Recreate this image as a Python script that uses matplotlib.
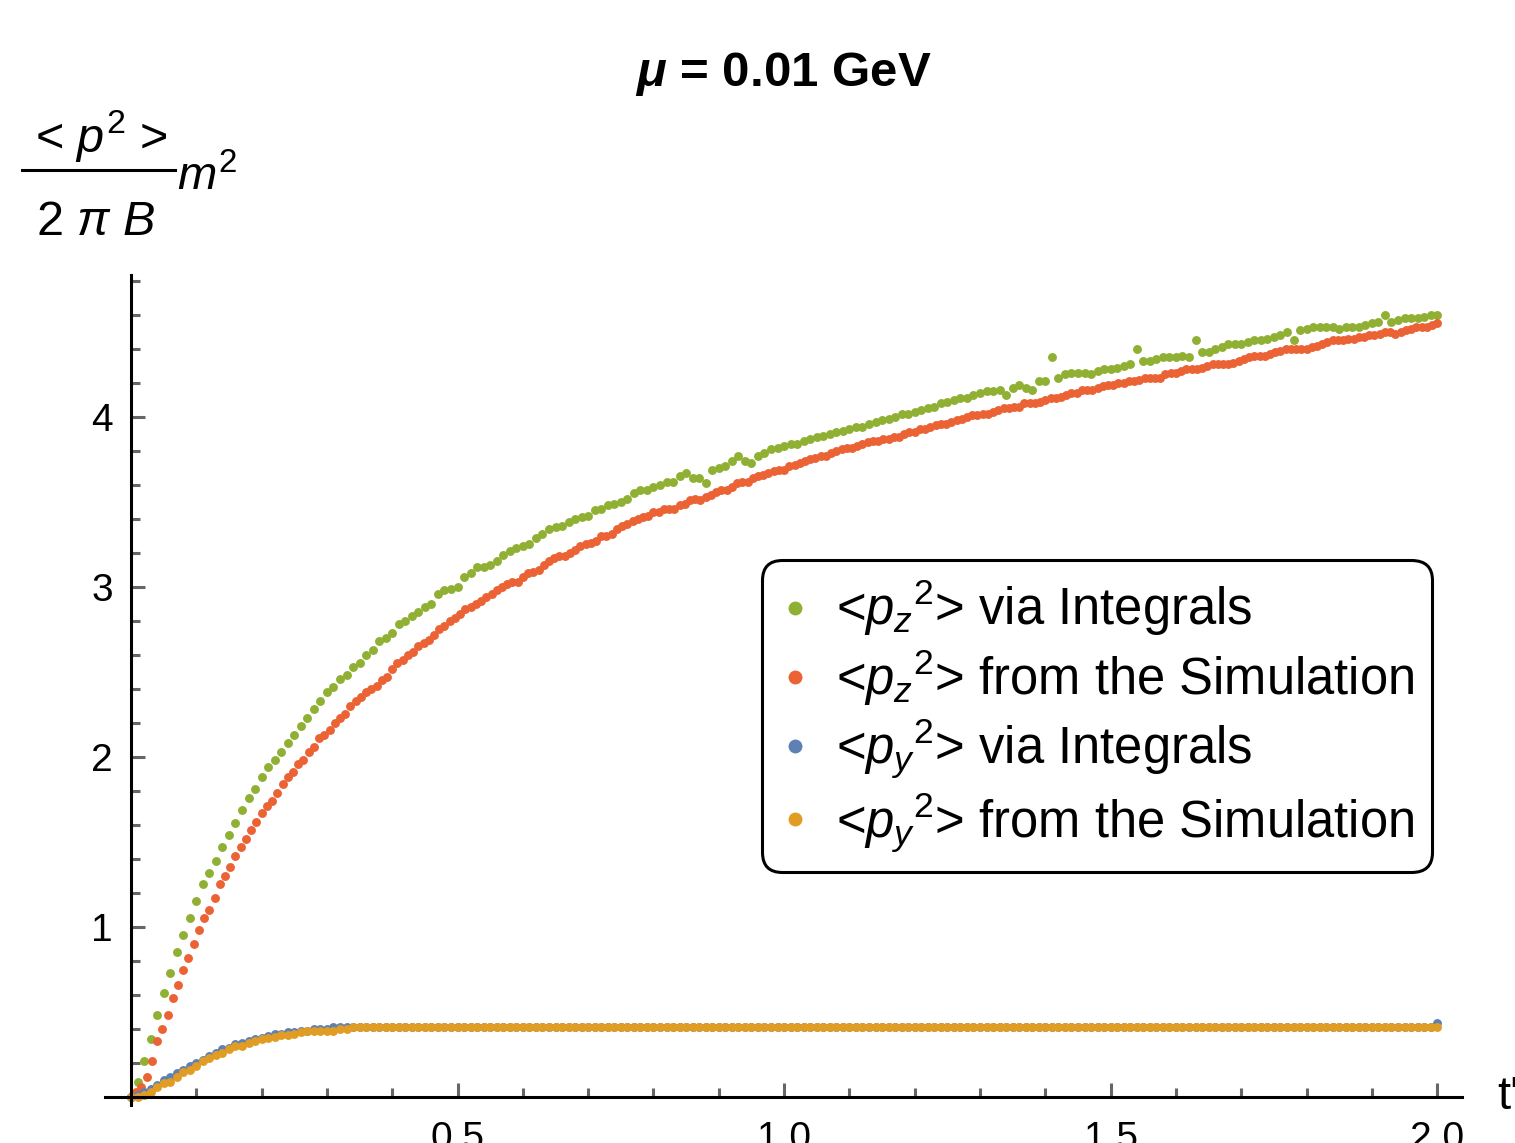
import matplotlib
matplotlib.use('Agg')
import matplotlib.pyplot as plt
import numpy as np
from matplotlib.lines import Line2D
from matplotlib.ticker import FixedLocator

plt.rcParams['font.family'] = ['Liberation Sans', 'DejaVu Sans']
plt.rcParams['mathtext.fontset'] = 'custom'
plt.rcParams['mathtext.rm'] = 'Liberation Sans'
plt.rcParams['mathtext.it'] = 'Liberation Sans:italic'
plt.rcParams['mathtext.bf'] = 'Liberation Sans:bold'
plt.rcParams['mathtext.bfit'] = 'Liberation Sans:bold:italic'

# <p_z^2> via integrals, t' = 0.00 ... 2.00 in steps of 0.01
pz2_integrals = [
    0.00, 0.09, 0.21, 0.34, 0.48, 0.61, 0.73, 0.85, 0.95, 1.05,
    1.15, 1.25, 1.32, 1.39, 1.47, 1.54, 1.61, 1.69, 1.76, 1.81,
    1.88, 1.94, 1.98, 2.03, 2.08, 2.13, 2.18, 2.23, 2.28, 2.33,
    2.38, 2.41, 2.46, 2.48, 2.53, 2.55, 2.60, 2.63, 2.68, 2.70,
    2.73, 2.78, 2.80, 2.83, 2.85, 2.88, 2.90, 2.96, 2.98, 2.99,
    3.00, 3.06, 3.08, 3.12, 3.12, 3.13, 3.15, 3.19, 3.21, 3.23,
    3.24, 3.25, 3.29, 3.31, 3.34, 3.35, 3.36, 3.38, 3.40, 3.41,
    3.42, 3.45, 3.46, 3.48, 3.49, 3.50, 3.52, 3.55, 3.57, 3.57,
    3.59, 3.60, 3.62, 3.62, 3.65, 3.67, 3.64, 3.64, 3.61, 3.69,
    3.70, 3.71, 3.74, 3.77, 3.74, 3.73, 3.77, 3.79, 3.81, 3.82,
    3.83, 3.84, 3.84, 3.86, 3.87, 3.88, 3.89, 3.90, 3.91, 3.92,
    3.93, 3.94, 3.94, 3.96, 3.97, 3.98, 3.99, 4.00, 4.02, 4.02,
    4.03, 4.04, 4.05, 4.06, 4.08, 4.09, 4.10, 4.11, 4.11, 4.13,
    4.14, 4.15, 4.15, 4.16, 4.13, 4.17, 4.19, 4.17, 4.16, 4.21,
    4.21, 4.35, 4.23, 4.25, 4.26, 4.26, 4.26, 4.25, 4.27, 4.28,
    4.28, 4.29, 4.30, 4.31, 4.40, 4.33, 4.33, 4.34, 4.35, 4.35,
    4.35, 4.36, 4.35, 4.45, 4.38, 4.38, 4.40, 4.41, 4.43, 4.43,
    4.43, 4.44, 4.45, 4.45, 4.46, 4.47, 4.48, 4.50, 4.45, 4.51,
    4.52, 4.53, 4.53, 4.53, 4.53, 4.52, 4.53, 4.53, 4.53, 4.54,
    4.55, 4.56, 4.60, 4.56, 4.57, 4.58, 4.58, 4.58, 4.59, 4.60,
    4.60,
]

# <p_z^2> from the simulation, t' = 0.000 ... 2.000 in steps of 0.008
pz2_simulation = [
    0.00, 0.03, 0.06, 0.12, 0.21, 0.33, 0.40, 0.48, 0.58, 0.66,
    0.75, 0.82, 0.90, 0.98, 1.05, 1.10, 1.17, 1.25, 1.30, 1.35,
    1.42, 1.47, 1.52, 1.57, 1.62, 1.67, 1.71, 1.74, 1.79, 1.84,
    1.88, 1.91, 1.96, 1.98, 2.03, 2.06, 2.11, 2.13, 2.16, 2.20,
    2.23, 2.25, 2.30, 2.33, 2.35, 2.38, 2.40, 2.42, 2.45, 2.47,
    2.52, 2.55, 2.57, 2.60, 2.62, 2.65, 2.67, 2.69, 2.72, 2.75,
    2.77, 2.80, 2.82, 2.84, 2.87, 2.88, 2.90, 2.92, 2.94, 2.96,
    2.98, 3.00, 3.02, 3.03, 3.03, 3.06, 3.08, 3.09, 3.10, 3.13,
    3.15, 3.17, 3.18, 3.18, 3.20, 3.22, 3.24, 3.25, 3.26, 3.27,
    3.30, 3.30, 3.31, 3.34, 3.36, 3.37, 3.39, 3.40, 3.41, 3.42,
    3.44, 3.44, 3.46, 3.46, 3.46, 3.48, 3.49, 3.51, 3.52, 3.51,
    3.53, 3.54, 3.56, 3.57, 3.57, 3.59, 3.61, 3.62, 3.62, 3.64,
    3.65, 3.66, 3.67, 3.68, 3.69, 3.69, 3.71, 3.72, 3.73, 3.74,
    3.75, 3.76, 3.77, 3.77, 3.79, 3.80, 3.81, 3.82, 3.82, 3.83,
    3.84, 3.85, 3.86, 3.86, 3.87, 3.87, 3.88, 3.88, 3.90, 3.91,
    3.91, 3.93, 3.93, 3.94, 3.95, 3.96, 3.96, 3.97, 3.98, 3.99,
    4.00, 4.01, 4.01, 4.02, 4.02, 4.03, 4.04, 4.05, 4.05, 4.06,
    4.06, 4.08, 4.08, 4.08, 4.09, 4.10, 4.11, 4.11, 4.12, 4.13,
    4.14, 4.14, 4.16, 4.16, 4.16, 4.17, 4.18, 4.19, 4.19, 4.20,
    4.20, 4.21, 4.21, 4.22, 4.23, 4.23, 4.23, 4.23, 4.25, 4.26,
    4.26, 4.27, 4.28, 4.28, 4.28, 4.29, 4.30, 4.31, 4.31, 4.31,
    4.31, 4.32, 4.33, 4.34, 4.35, 4.36, 4.36, 4.36, 4.37, 4.38,
    4.39, 4.40, 4.40, 4.40, 4.40, 4.40, 4.41, 4.42, 4.43, 4.44,
    4.45, 4.45, 4.45, 4.46, 4.46, 4.47, 4.47, 4.48, 4.48, 4.49,
    4.50, 4.50, 4.49, 4.50, 4.51, 4.52, 4.53, 4.53, 4.53, 4.54,
    4.55,
]

# <p_y^2> via integrals, t' = 0.00 ... 2.00 in steps of 0.01
py2_integrals = [
    0.00, 0.01, 0.03, 0.05, 0.07, 0.10, 0.12, 0.14, 0.16, 0.18,
    0.20, 0.22, 0.24, 0.26, 0.28, 0.29, 0.31, 0.32, 0.33, 0.34,
    0.35, 0.36, 0.37, 0.37, 0.38, 0.38, 0.39, 0.39, 0.40, 0.40,
    0.40, 0.41, 0.41, 0.41, 0.41, 0.41, 0.41, 0.41, 0.41, 0.41,
    0.41, 0.41, 0.41, 0.41, 0.41, 0.41, 0.41, 0.41, 0.41, 0.41,
    0.41, 0.41, 0.41, 0.41, 0.41, 0.41, 0.41, 0.41, 0.41, 0.41,
    0.41, 0.41, 0.41, 0.41, 0.41, 0.41, 0.41, 0.41, 0.41, 0.41,
    0.41, 0.41, 0.41, 0.41, 0.41, 0.41, 0.41, 0.41, 0.41, 0.41,
    0.41, 0.41, 0.41, 0.41, 0.41, 0.41, 0.41, 0.41, 0.41, 0.41,
    0.41, 0.41, 0.41, 0.41, 0.41, 0.41, 0.41, 0.41, 0.41, 0.41,
    0.41, 0.41, 0.41, 0.41, 0.41, 0.41, 0.41, 0.41, 0.41, 0.41,
    0.41, 0.41, 0.41, 0.41, 0.41, 0.41, 0.41, 0.41, 0.41, 0.41,
    0.41, 0.41, 0.41, 0.41, 0.41, 0.41, 0.41, 0.41, 0.41, 0.41,
    0.41, 0.41, 0.41, 0.41, 0.41, 0.41, 0.41, 0.41, 0.41, 0.41,
    0.41, 0.41, 0.41, 0.41, 0.41, 0.41, 0.41, 0.41, 0.41, 0.41,
    0.41, 0.41, 0.41, 0.41, 0.41, 0.41, 0.41, 0.41, 0.41, 0.41,
    0.41, 0.41, 0.41, 0.41, 0.41, 0.41, 0.41, 0.41, 0.41, 0.41,
    0.41, 0.41, 0.41, 0.41, 0.41, 0.41, 0.41, 0.41, 0.41, 0.41,
    0.41, 0.41, 0.41, 0.41, 0.41, 0.41, 0.41, 0.41, 0.41, 0.41,
    0.41, 0.41, 0.41, 0.41, 0.41, 0.41, 0.41, 0.41, 0.41, 0.41,
    0.435,
]

# <p_y^2> from the simulation, t' = 0.00 ... 2.00 in steps of 0.01
py2_simulation = [
    0.00, 0.00, 0.01, 0.03, 0.06, 0.08, 0.09, 0.12, 0.15, 0.16,
    0.18, 0.21, 0.23, 0.25, 0.26, 0.28, 0.30, 0.30, 0.32, 0.33,
    0.34, 0.35, 0.355, 0.365, 0.365, 0.37, 0.38, 0.39, 0.39, 0.39,
    0.39, 0.39, 0.40, 0.40, 0.41, 0.41, 0.41, 0.41, 0.41, 0.41,
    0.41, 0.41, 0.41, 0.41, 0.41, 0.41, 0.41, 0.41, 0.41, 0.41,
    0.41, 0.41, 0.41, 0.41, 0.41, 0.41, 0.41, 0.41, 0.41, 0.41,
    0.41, 0.41, 0.41, 0.41, 0.41, 0.41, 0.41, 0.41, 0.41, 0.41,
    0.41, 0.41, 0.41, 0.41, 0.41, 0.41, 0.41, 0.41, 0.41, 0.41,
    0.41, 0.41, 0.41, 0.41, 0.41, 0.41, 0.41, 0.41, 0.41, 0.41,
    0.41, 0.41, 0.41, 0.41, 0.41, 0.41, 0.41, 0.41, 0.41, 0.41,
    0.41, 0.41, 0.41, 0.41, 0.41, 0.41, 0.41, 0.41, 0.41, 0.41,
    0.41, 0.41, 0.41, 0.41, 0.41, 0.41, 0.41, 0.41, 0.41, 0.41,
    0.41, 0.41, 0.41, 0.41, 0.41, 0.41, 0.41, 0.41, 0.41, 0.41,
    0.41, 0.41, 0.41, 0.41, 0.41, 0.41, 0.41, 0.41, 0.41, 0.41,
    0.41, 0.41, 0.41, 0.41, 0.41, 0.41, 0.41, 0.41, 0.41, 0.41,
    0.41, 0.41, 0.41, 0.41, 0.41, 0.41, 0.41, 0.41, 0.41, 0.41,
    0.41, 0.41, 0.41, 0.41, 0.41, 0.41, 0.41, 0.41, 0.41, 0.41,
    0.41, 0.41, 0.41, 0.41, 0.41, 0.41, 0.41, 0.41, 0.41, 0.41,
    0.41, 0.41, 0.41, 0.41, 0.41, 0.41, 0.41, 0.41, 0.41, 0.41,
    0.41, 0.41, 0.41, 0.41, 0.41, 0.41, 0.41, 0.41, 0.41, 0.41,
    0.41,
]

t_end = 2.0
t_integrals = np.linspace(0, t_end, len(pz2_integrals))
t_simulation = np.linspace(0, t_end, len(pz2_simulation))
t_py = np.linspace(0, t_end, len(py2_integrals))

labels = [
    r'<${p_z}^2$> via Integrals',
    r'<${p_z}^2$> from the Simulation',
    r'<${p_y}^2$> via Integrals',
    r'<${p_y}^2$> from the Simulation',
]
x_major = [0.5, 1.0, 1.5, 2.0]
y_major = [1, 2, 3, 4]

# Mathematica default palette
GREEN = '#8FB032'
RED = '#EB6235'
BLUE = '#5E81B5'
ORANGE = '#E19C24'
TICK_GREY = '#666666'

W, H = 1515, 1143
fig = plt.figure(figsize=(W / 100, H / 100), dpi=100)


def fx(px):
    return px / W


def fy(py):
    return 1 - py / H


ax = fig.add_axes((fx(105), fy(1105), fx(1462) - fx(105), fy(275) - fy(1105)))
ax.set_xlim(-0.0398, 2.038)
ax.set_ylim(-0.047, 4.835)

# Points
dot = dict(ls='none', marker='o', ms=6.4, mew=0)
ax.plot(t_integrals, pz2_integrals, color=GREEN, **dot)
ax.plot(t_simulation, pz2_simulation, color=RED, **dot)
ax.plot(t_py, py2_integrals, color=BLUE, **dot)
ax.plot(t_py, py2_simulation, color=ORANGE, **dot)

# Axes through the origin
for side in ('top', 'right'):
    ax.spines[side].set_visible(False)
for side in ('left', 'bottom'):
    ax.spines[side].set_position(('data', 0))
    ax.spines[side].set_linewidth(2.2)
    ax.spines[side].set_color('black')

ax.xaxis.set_major_locator(FixedLocator(x_major))
ax.xaxis.set_minor_locator(FixedLocator(np.round(np.arange(0.1, 2.01, 0.1), 2)))
ax.yaxis.set_major_locator(FixedLocator(y_major))
ax.yaxis.set_minor_locator(FixedLocator(np.round(np.arange(0.2, 4.81, 0.2), 2)))
ax.set_xticklabels(['0.5', '1.0', '1.5', '2.0'])
ax.set_yticklabels(['1', '2', '3', '4'])
ax.tick_params(which='major', direction='in', length=10, width=2.2, color=TICK_GREY, labelsize=28)
ax.tick_params(which='minor', direction='in', length=6.5, width=2.2, color=TICK_GREY)
ax.tick_params(axis='x', pad=17)
ax.tick_params(axis='y', pad=13)

# Title and axis labels
fig.text(fx(783), fy(74), r'$\mathbfit{\mu}$ = 0.01 GeV', ha='center', va='center',
         fontsize=35.5, fontweight='bold')
fig.text(fx(1497), fy(1097), "t'", ha='left', va='center', fontsize=34)

fig.text(fx(101), fy(152), r'< $p^2$ >', ha='center', va='baseline', fontsize=35)
fig.add_artist(Line2D([fx(22), fx(175)], [fy(170), fy(170)], color='black', lw=2.2))
fig.text(fx(96), fy(235), r'2 $\pi$ $B$', ha='center', va='baseline', fontsize=35)
fig.text(fx(177), fy(190), r'$m^2$', ha='left', va='baseline', fontsize=34)

# Legend
handles = [Line2D([], [], ls='none', marker='o', ms=10, mew=0, color=c)
           for c in (GREEN, RED, BLUE, ORANGE)]
leg = ax.legend(handles, labels, loc='upper left',
                bbox_to_anchor=(fx(762), fy(560)), bbox_transform=fig.transFigure,
                borderaxespad=0, fontsize=36.5, frameon=True, fancybox=True,
                edgecolor='black', framealpha=1, borderpad=0.35, labelspacing=0.18,
                handlelength=0.6, handletextpad=0.5)
frame = leg.get_frame()
frame.set_linewidth(2.2)
frame.set_boxstyle('round', pad=0, rounding_size=0.4)

fig.savefig('out.png', dpi=100)
